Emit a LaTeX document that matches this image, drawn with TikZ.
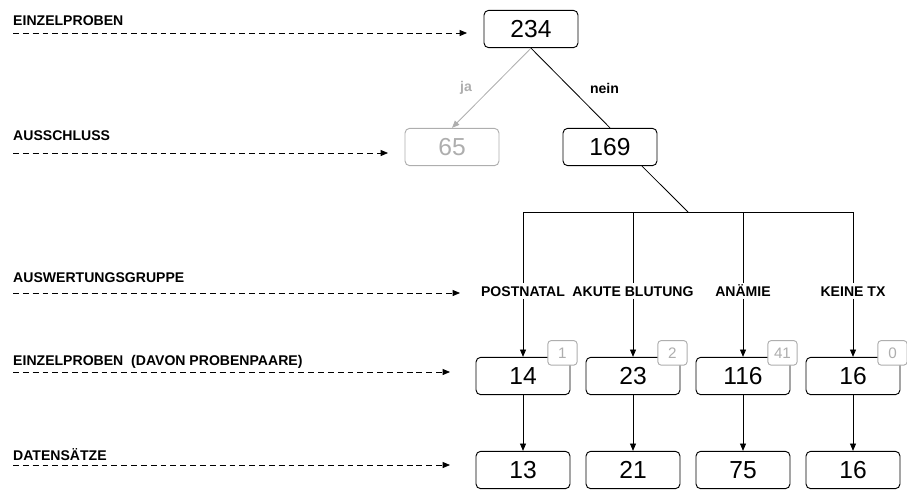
\documentclass[tikz,border=0pt]{standalone}
\usepackage{fontspec}
\setmainfont{Liberation Sans}
\usetikzlibrary{calc,arrows.meta,positioning}
\definecolor{lightg}{HTML}{AEAEAE}
\tikzset{
  ar/.style={-{Triangle[length=2.2mm,width=1.8mm]},line width=0.7pt},
  dar/.style={ar,dash pattern=on 5pt off 3.4pt,line width=0.6pt},
  box/.style={draw,rounded corners=4pt,line width=0.8pt,minimum width=2.82cm,minimum height=1.12cm,inner sep=0pt,font=\fontsize{21}{24}\selectfont},
  badge/.style={draw=lightg,fill=white,text=lightg,rounded corners=3pt,line width=0.8pt,minimum width=0.88cm,minimum height=0.74cm,inner sep=0pt,font=\fontsize{13}{15}\selectfont},
  lvl/.style={anchor=base west,inner sep=0pt,font=\bfseries\fontsize{12}{14}\selectfont},
  grp/.style={inner sep=2pt,text height=8.6pt,text depth=0pt,font=\bfseries\fontsize{12}{14}\selectfont},
  lbl/.style={font=\bfseries\fontsize{12}{14}\selectfont}
}
\begin{document}
\begin{tikzpicture}[x=0.03cm,y=-0.03cm]
\useasboundingbox (0,0) rectangle (907,491);
% Ebenen links
\foreach \n/\txt/\yb/\ya/\xe in {e1/EINZELPROBEN/25/33/467, e2/AUSSCHLUSS/140/153/388, e3/AUSWERTUNGSGRUPPE/282/293/460, e4/EINZELPROBEN\ \ (DAVON PROBENPAARE)/365/372/450, e5/DATENSÄTZE/460/465/450} {
  \node[lvl] (\n) at (13,\yb) {\txt};
  \coordinate (\n s) at (13,\ya);
  \coordinate (\n e) at (\xe,\ya);
  \draw[dar] (\n s) -- (\n e);
}
% Baum
\node[box] (n234) at (531,29) {234};
\node[box,draw=lightg,text=lightg] (n65) at (452,147) {65};
\node[box] (n169) at (610,147) {169};
\draw[ar,lightg] (n234.south) -- (n65.north) node[midway,left=13pt,lbl,text=lightg] {ja};
\draw[line width=0.7pt] (n234.south) -- (n169.north) node[midway,right=13pt,lbl] {nein};
\coordinate (br) at (688,212);
\coordinate (bl) at (523,212);
\coordinate (bx) at (853,212);
\draw[line width=0.7pt] ($(n169.south)+(32,0)$) -- (br);
\draw[line width=0.7pt] (bl) -- (bx);
% Gruppen
\foreach \n/\x/\g/\p/\pp/\d in {a/523/POSTNATAL/14/1/13, b/633/AKUTE BLUTUNG/23/2/21, c/743/ANÄMIE/116/41/75, d/853/KEINE TX/16/0/16} {
  \coordinate (t\n) at (\x,212);
  \node[grp] (g\n) at (\x,291) {\g};
  \node[box] (p\n) at (\x,376) {\p};
  \node[badge] (k\n) at ($(p\n.north east)+(-8,-4)$) {\pp};
  \node[box] (d\n) at (\x,470) {\d};
  \draw[line width=0.7pt] (t\n) -- (g\n);
  \draw[ar] (g\n) -- (p\n);
  \draw[ar] (p\n) -- (d\n);
}
\end{tikzpicture}
\end{document}
